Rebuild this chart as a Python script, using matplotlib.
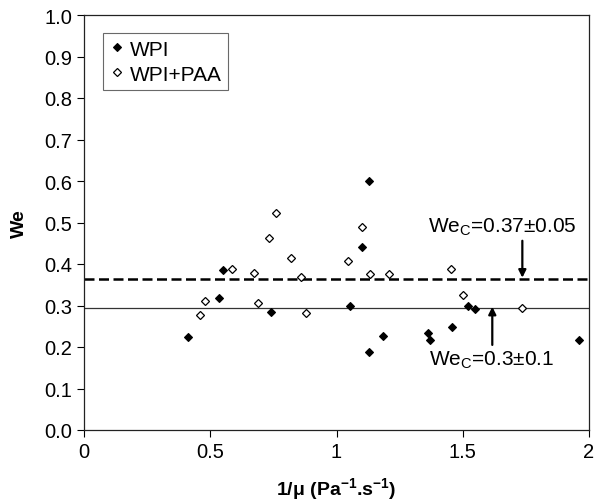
import matplotlib
matplotlib.use("Agg")
import matplotlib.pyplot as plt

plt.rcParams['font.family'] = ['Liberation Sans', 'DejaVu Sans']
plt.rcParams['mathtext.fontset'] = 'custom'
plt.rcParams['mathtext.rm'] = 'Liberation Sans'
plt.rcParams['mathtext.bf'] = 'Liberation Sans:bold'

# WPI (filled diamonds)
wpi_x = [0.411, 0.552, 0.536, 0.742, 1.053, 1.102, 1.129, 1.520, 1.547,
         1.130, 1.184, 1.364, 1.369, 1.459, 1.960]
wpi_y = [0.223, 0.386, 0.318, 0.285, 0.298, 0.442, 0.600, 0.299, 0.292,
         0.189, 0.227, 0.233, 0.216, 0.248, 0.217]

# WPI+PAA (open diamonds)
paa_x = [0.461, 0.481, 0.585, 0.675, 0.688, 0.731, 0.759, 0.820, 0.861,
         0.878, 1.047, 1.102, 1.131, 1.208, 1.453, 1.500, 1.736]
paa_y = [0.276, 0.310, 0.389, 0.379, 0.307, 0.463, 0.524, 0.414, 0.369,
         0.282, 0.408, 0.488, 0.376, 0.376, 0.389, 0.326, 0.295]

# critical Weber numbers
we_c_paa = 0.365
we_c_wpi = 0.295

x_ticks = [0, 0.5, 1, 1.5, 2]
x_tick_labels = ['0', '0.5', '1', '1.5', '2']
y_ticks = [i / 10 for i in range(11)]

fig = plt.figure(figsize=(5.96, 5.02), dpi=100)
ax = fig.add_axes([84 / 596, 71 / 502, 505 / 596, 415 / 502])

ax.axhline(we_c_paa, color='black', lw=1.8, ls=(0, (4, 1.8)), zorder=1)
ax.axhline(we_c_wpi, color='#333333', lw=0.9, zorder=1)

ax.plot(wpi_x, wpi_y, ls='none', marker='D', ms=3.8, mfc='black', mec='black',
        mew=0.8, label='WPI', zorder=3)
ax.plot(paa_x, paa_y, ls='none', marker='D', ms=3.6, mfc='white', mec='black',
        mew=0.9, label='WPI+PAA', zorder=3)

ax.annotate('', xy=(1.736, we_c_paa + 0.002), xytext=(1.736, 0.456),
            arrowprops=dict(arrowstyle='-|>', color='black', lw=1.6,
                            mutation_scale=11, shrinkA=0, shrinkB=0))
ax.annotate('', xy=(1.617, we_c_wpi + 0.002), xytext=(1.617, 0.205),
            arrowprops=dict(arrowstyle='-|>', color='black', lw=1.6,
                            mutation_scale=11, shrinkA=0, shrinkB=0))
ax.text(1.361, 0.492, r'We$_\mathregular{C}$=0.37$\pm$0.05', fontsize=15,
        va='center', ha='left')
ax.text(1.367, 0.171, r'We$_\mathregular{C}$=0.3$\pm$0.1', fontsize=15,
        va='center', ha='left')

ax.set_xlim(0, 2)
ax.set_ylim(0, 1)
ax.set_xticks(x_ticks)
ax.set_xticklabels(x_tick_labels)
ax.set_yticks(y_ticks)
ax.set_yticklabels([f'{v:.1f}' for v in y_ticks])
ax.tick_params(axis='both', direction='out', length=5, width=0.8,
               labelsize=14.5, colors='black')
ax.tick_params(axis='y', pad=3.5)
ax.tick_params(axis='x', pad=4)
for s in ax.spines.values():
    s.set_linewidth(0.9)
    s.set_color('#222222')

ax.set_ylabel('We', fontsize=14, fontweight='bold', labelpad=12)
ax.set_xlabel(r'1/$\mathbf{\mu}$ (Pa$\mathbf{^{-1}}$.s$\mathbf{^{-1}}$)',
              fontsize=14, fontweight='bold', labelpad=10)

leg = ax.legend(loc='upper left', bbox_to_anchor=(0.038, 0.956),
                borderaxespad=0, fontsize=15, frameon=True, fancybox=False,
                handlelength=0.7, handletextpad=0.3, borderpad=0.3,
                labelspacing=0.3, markerscale=1.0)
leg.get_frame().set_edgecolor('#444444')
leg.get_frame().set_linewidth(0.8)

fig.savefig('out.png', dpi=100)
